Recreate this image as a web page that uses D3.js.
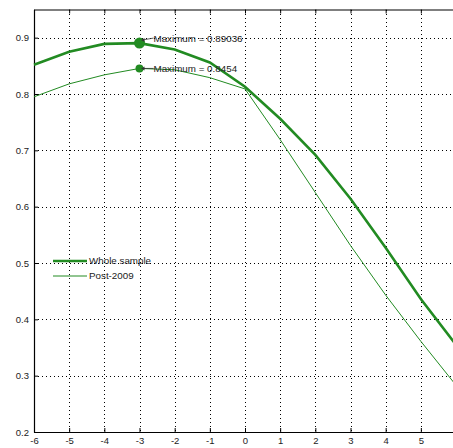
<!DOCTYPE html>
<html>
<head>
<meta charset="utf-8">
<script src="https://cdn.jsdelivr.net/npm/d3@7"></script>
<style>
  body { margin: 0; background: #fff; }
  svg { display: block; font-family: "Liberation Sans", Arial, sans-serif; }
</style>
</head>
<body>
<svg id="chart" width="453" height="448"></svg>
<script>
// data
var horizons = [-6, -5, -4, -3, -2, -1, 0, 1, 2, 3, 4, 5, 6];
var wholeSample = [0.852, 0.875, 0.889, 0.89036, 0.879, 0.856, 0.813, 0.756, 0.692, 0.614, 0.527, 0.436, 0.355];
var post2009 = [0.795, 0.818, 0.834, 0.8454, 0.843, 0.829, 0.809, 0.719, 0.625, 0.531, 0.443, 0.361, 0.283];
var xTicks = [-6, -5, -4, -3, -2, -1, 0, 1, 2, 3, 4, 5, 6];
var yTicks = [0.2, 0.3, 0.4, 0.5, 0.6, 0.7, 0.8, 0.9];
var seriesNames = ["Whole sample", "Post-2009"];

var svg = d3.select("#chart");
var pLeft = 34, pRight = 456, pTop = 9.5, pBottom = 432;
var green = "#228b22";

var x = d3.scaleLinear().domain([-6, 6]).range([pLeft, pRight]);
var y = d3.scaleLinear().domain([0.2, 0.95]).range([pBottom, pTop]);

// dotted grid
var grid = svg.append("g").attr("stroke", "#000").attr("stroke-width", 1)
    .attr("stroke-dasharray", "1,3").attr("shape-rendering", "crispEdges");
grid.selectAll(".gx").data(xTicks.slice(1, -1)).enter().append("line")
    .attr("x1", function (d) { return Math.round(x(d)) + 0.5; })
    .attr("x2", function (d) { return Math.round(x(d)) + 0.5; })
    .attr("y1", pTop).attr("y2", pBottom);
grid.selectAll(".gy").data(yTicks.slice(1)).enter().append("line")
    .attr("y1", function (d) { return Math.round(y(d)) + 0.5; })
    .attr("y2", function (d) { return Math.round(y(d)) + 0.5; })
    .attr("x1", pLeft).attr("x2", pRight);

// axes, matlab style ticks pointing in
var xAxis = svg.append("g").attr("transform", "translate(0," + pBottom + ")")
    .call(d3.axisBottom(x).tickValues(xTicks).tickSizeInner(-4).tickSizeOuter(0).tickPadding(10)
    .tickFormat(function (d) { return String(d); }));
var xTop = svg.append("g").attr("transform", "translate(0," + pTop + ")")
    .call(d3.axisTop(x).tickValues(xTicks).tickSizeInner(-4).tickSizeOuter(0).tickFormat(""));
var yAxis = svg.append("g").attr("transform", "translate(" + pLeft + ",0)")
    .call(d3.axisLeft(y).tickValues(yTicks).tickSizeInner(-4).tickSizeOuter(0).tickPadding(5)
    .tickFormat(d3.format(".1f")));
[xAxis, xTop, yAxis].forEach(function (a) {
  a.selectAll("text").attr("font-size", 9.5).attr("fill", "#222").attr("font-family", "Liberation Sans, Arial, sans-serif");
  a.select(".domain").attr("stroke-width", 1.2);
});
xAxis.selectAll("text").attr("dy", "0.2em");

// lines
var line = d3.line()
    .x(function (d, i) { return x(horizons[i]); })
    .y(function (d) { return y(d); });

svg.append("path").datum(wholeSample).attr("d", line)
    .attr("fill", "none").attr("stroke", green).attr("stroke-width", 2.6);
svg.append("path").datum(post2009).attr("d", line)
    .attr("fill", "none").attr("stroke", green).attr("stroke-width", 1);

// maxima
function markMax(vals, r) {
  var i = d3.maxIndex(vals);
  var px = x(horizons[i]), py = y(vals[i]);
  svg.append("circle").attr("cx", px).attr("cy", py).attr("r", r).attr("fill", green);
  var ty = py - (r > 4 ? 5 : 0);
  var ay = py - (r > 4 ? 3 : 0);
  svg.append("line").attr("x1", px + 14).attr("y1", ty).attr("x2", px + 2).attr("y2", ay)
      .attr("stroke", "#333").attr("stroke-width", 0.8);
  svg.append("path").attr("d", "M" + (px + 2) + "," + ay + "l3,-2 l0,4z").attr("fill", "#333");
  svg.append("text").attr("x", px + 14).attr("y", ty).attr("dy", "0.35em")
      .attr("font-size", 9.8).attr("fill", "#222")
      .text("Maximum = " + vals[i]);
}
markMax(wholeSample, 5.5);
markMax(post2009, 4);

// legend
var legend = svg.append("g");
seriesNames.forEach(function (name, i) {
  var ly = 261 + i * 15;
  legend.append("line").attr("x1", 53).attr("x2", 87).attr("y1", ly).attr("y2", ly)
      .attr("stroke", green).attr("stroke-width", i === 0 ? 2.6 : 1);
  legend.append("text").attr("x", 89).attr("y", ly).attr("dy", "0.35em")
      .attr("font-size", 9.8).attr("fill", "#222").text(name);
});
</script>
</body>
</html>
